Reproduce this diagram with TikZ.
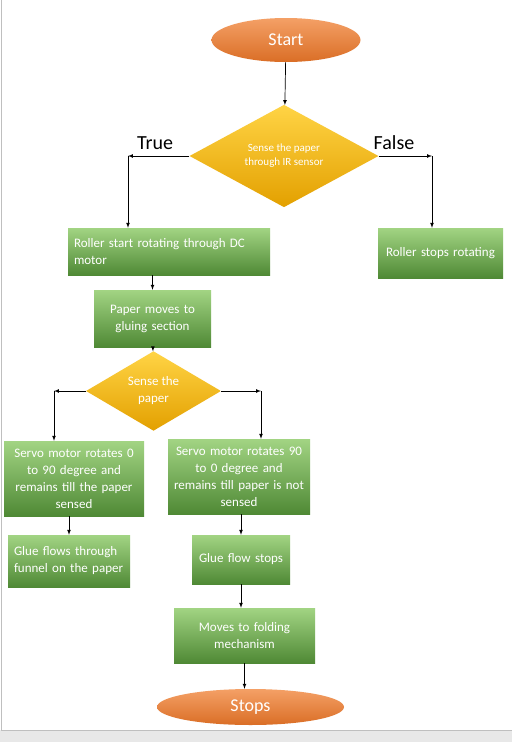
\documentclass[tikz,border=0pt]{standalone}
\usepackage{fontspec}
\setmainfont{Carlito}
\usetikzlibrary{positioning,arrows,backgrounds}
\usepgflibrary{shapes.geometric}
\hyphenpenalty=10000
\exhyphenpenalty=10000
\definecolor{termtop}{HTML}{F4A066}
\definecolor{termbot}{HTML}{DA6E26}
\definecolor{condtop}{HTML}{FFD445}
\definecolor{condbot}{HTML}{E3A000}
\definecolor{proctop}{HTML}{A2D483}
\definecolor{procbot}{HTML}{4F8935}
\tikzset{%
terminal/.style={ellipse,inner sep=0,top color=termtop,bottom color=termbot,text=white,font=\fontsize{18}{22}\selectfont},
process/.style={rectangle,inner xsep=3pt,inner ysep=2pt,top color=proctop,bottom color=procbot,text=white,align=center,font=\fontsize{13}{17}\selectfont},
flowcond/.style={diamond,inner sep=0,top color=condtop,bottom color=condbot,text=white,align=center},
branchlabel/.style={font=\fontsize{20}{24}\selectfont,inner sep=0},
flowarrow/.style={-latex,line width=0.7pt},
pageedge/.style={draw=black!25,line width=1pt}
}
\begin{document}
\begin{tikzpicture}[x=1pt,y=-1pt]

  % page
  \useasboundingbox (0,0) rectangle (512,742);
  \fill[white] (0,0) rectangle (512,742);
  \fill[black!9] (0,730) rectangle (512,742);
  \draw[pageedge] (1,0) -- (1,730) -- (512,730);

  % top part
  \node[terminal,minimum width=149pt,minimum height=44pt] (start) at (286,40) {Start};
  \node[flowcond,minimum width=189pt,minimum height=94pt,font=\fontsize{11}{14}\selectfont] (sense1) at (284,156)
    {Sense the paper\\through IR sensor};
  \node[branchlabel] (truelbl) at (155,143) {True};
  \node[branchlabel] (falselbl) at (394,143) {False};
  \coordinate (truecorner) at (128,156);
  \coordinate (falsecorner) at (432,156);
  \node[process,inner xsep=6pt,text width=190pt,minimum height=47pt,align=left] (rollerstart) at (169,251.5)
    {Roller start rotating through DC\\motor};
  \node[process,text width=119pt,minimum height=50pt] (rollerstop) at (440.5,253) {Roller stops rotating};
  \node[process,text width=111pt,minimum height=57pt] (paper) at (152.5,318.5) {Paper moves to\\gluing section};

  % gluing part
  \node[flowcond,minimum width=135pt,minimum height=74pt,font=\fontsize{13}{17}\selectfont] (sense2) at (153.5,391)
    {Sense the\\paper};
  \coordinate (leftcorner) at (54,391);
  \coordinate (rightcorner) at (261,391);
  \node[process,text width=134pt,minimum height=75pt] (servoleft) at (74,478.5)
    {Servo motor rotates 0\\to 90 degree and\\remains till the paper\\sensed};
  \node[process,text width=136pt,minimum height=75pt] (servoright) at (239,476.5)
    {Servo motor rotates 90\\to 0 degree and\\remains till paper is not\\sensed};
  \node[process,inner xsep=6pt,text width=110pt,minimum height=52pt,align=left] (glueflows) at (69,561)
    {Glue flows through\\funnel on the paper};
  \node[process,text width=92pt,minimum height=49pt] (gluestops) at (241,559.5) {Glue flow stops};
  \node[process,text width=135pt,minimum height=55pt] (folding) at (244.5,635.5) {Moves to folding\\mechanism};
  \node[terminal,minimum width=187pt,minimum height=36pt] (stops) at (250.5,707) {Stops};

  % connectors
  \draw[flowarrow] (start) -- (sense1);
  \draw[flowarrow] (sense1.west) -- (truecorner);
  \draw[flowarrow] (truecorner) -- (truecorner |- rollerstart.north);
  \draw[flowarrow] (sense1.east) -- (falsecorner);
  \draw[flowarrow] (falsecorner) -- (falsecorner |- rollerstop.north);
  \draw[flowarrow] (paper.north |- rollerstart.south) -- (paper.north);
  \draw[flowarrow] (paper) -- (sense2);
  \draw[flowarrow] (sense2.west) -- (leftcorner);
  \draw[flowarrow] (leftcorner) -- (leftcorner |- servoleft.north);
  \draw[flowarrow] (sense2.east) -- (rightcorner);
  \draw[flowarrow] (rightcorner) -- (rightcorner |- servoright.north);
  \draw[flowarrow] (glueflows.north |- servoleft.south) -- (glueflows.north);
  \draw[flowarrow] (servoright.south -| gluestops.north) -- (gluestops.north);
  \draw[flowarrow] (gluestops.south) -- (gluestops.south |- folding.north);
  \draw[flowarrow] (folding.south) -- (folding.south |- stops.north);

\end{tikzpicture}
\end{document}
